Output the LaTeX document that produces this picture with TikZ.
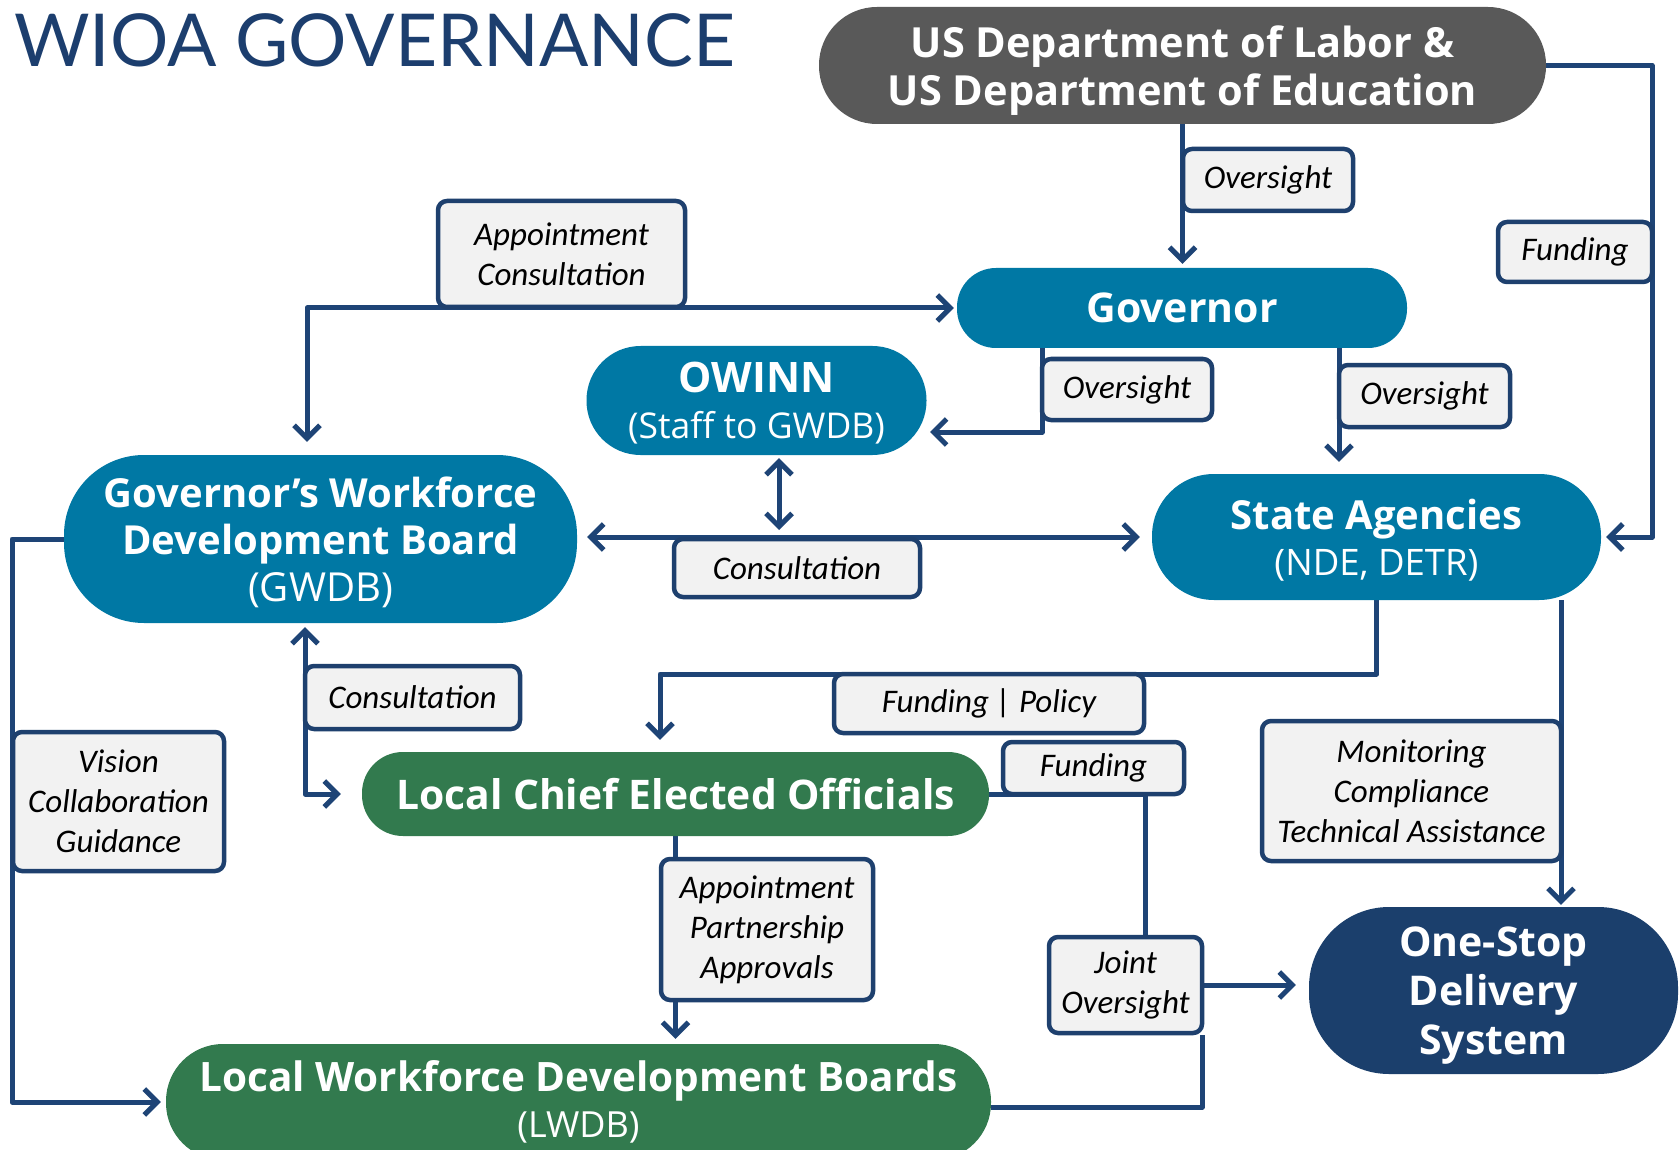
\documentclass[tikz,border=0pt]{standalone}
\usepackage{fontspec}
\setmainfont{Open Sans}
\newfontfamily\titlefont{Lato}
\newfontfamily\lblfont{Carlito}
\usetikzlibrary{arrows.meta,calc}
\definecolor{linec}{RGB}{30,68,118}
\definecolor{boxc}{RGB}{30,64,110}
\definecolor{lblfill}{RGB}{242,242,242}
\definecolor{tealc}{RGB}{0,120,164}
\definecolor{greenc}{RGB}{50,122,78}
\definecolor{navyc}{RGB}{27,63,108}
\definecolor{grayc}{RGB}{89,89,89}
\definecolor{titlec}{RGB}{28,62,110}
\pgfdeclarelayer{bg}
\pgfsetlayers{bg,main}
\tikzset{
  big/.style={fill=#1, text=white, inner sep=0pt, align=center, text depth=0pt},
  lbl/.style={draw=boxc, line width=4.5pt, fill=lblfill, rounded corners=9pt,
    inner sep=0pt, align=center, text=black,
    font={\lblfont\itshape\fontsize{33}{40}\selectfont}},
  conn/.style={draw=linec, line width=5pt, line join=round},
  arr/.style={conn, -{Straight Barb[length=13pt,width=26pt]}},
  darr/.style={conn, {Straight Barb[length=13pt,width=26pt]}-{Straight Barb[length=13pt,width=26pt]}},
}
\begin{document}
\begin{tikzpicture}[x=1pt,y=-1pt]
\useasboundingbox (0,0) rectangle (1679,1150);
\begin{pgfonlayer}{bg}
\fill[white] (0,0) rectangle (1679,1150);
\end{pgfonlayer}

% title
\node[anchor=base west, inner sep=0pt, text=titlec, font={\titlefont\fontsize{73}{80}\selectfont}] (title) at (14,67) {WIOA GOVERNANCE};

% main nodes
\node[big=grayc, minimum width=727pt, minimum height=117pt, rounded corners=58pt,
  font={\fontsize{41.5}{48}\selectfont\bfseries}] (us) at (1182.5,65.5)
  {US Department of Labor \&\\US Department of Education};
\node[big=tealc, minimum width=450pt, minimum height=80pt, rounded corners=39pt,
  font={\fontsize{41}{48}\selectfont\bfseries}] (gov) at (1182,308) {Governor};
\node[big=tealc, minimum width=340pt, minimum height=109pt, rounded corners=54pt,
  font={\fontsize{42}{46}\selectfont\bfseries}] (owinn) at (756.5,400.5)
  {OWINN\\{\fontsize{35.5}{46}\selectfont\mdseries (Staff to GWDB)}};
\node[big=tealc, minimum width=513pt, minimum height=168pt, rounded corners=80pt,
  font={\fontsize{40}{47}\selectfont\bfseries}] (gwdb) at (320.5,539)
  {Governor’s Workforce\\Development Board\\{\fontsize{40}{47}\selectfont\mdseries (GWDB)}};
\node[big=tealc, minimum width=449pt, minimum height=126pt, rounded corners=62pt,
  font={\fontsize{40}{46}\selectfont\bfseries}] (state) at (1376.5,537)
  {State Agencies\\{\fontsize{36.5}{46}\selectfont\mdseries (NDE, DETR)}};
\node[big=greenc, minimum width=627pt, minimum height=84pt, rounded corners=41pt,
  font={\fontsize{40.8}{48}\selectfont\bfseries}] (lceo) at (675.5,794)
  {Local Chief Elected Officials};
\node[big=greenc, text depth=, minimum width=825pt, minimum height=116pt, rounded corners=57pt,
  font={\fontsize{40.5}{46}\selectfont\bfseries}] (lwdb) at (578.5,1102)
  {Local Workforce Development Boards\\{\fontsize{36}{46}\selectfont\mdseries (LWDB)}};
\node[big=navyc, minimum width=369pt, minimum height=167pt, rounded corners=80pt,
  font={\fontsize{41}{49}\selectfont\bfseries}] (onestop) at (1493.5,990.5)
  {One-Stop\\Delivery\\System};

% label boxes
\node[lbl, minimum width=247pt, minimum height=106pt] (L1) at (561.5,254) {Appointment\\Consultation};
\node[lbl, minimum width=170pt, minimum height=62pt] (L2) at (1268,180) {Oversight};
\node[lbl, minimum width=154pt, minimum height=60pt] (L3) at (1575,252) {Funding};
\node[lbl, minimum width=170pt, minimum height=61pt] (L4) at (1127,389.5) {Oversight};
\node[lbl, minimum width=171pt, minimum height=62pt] (L5) at (1424.5,396) {Oversight};
\node[lbl, minimum width=246pt, minimum height=58pt] (L6) at (797,568) {Consultation};
\node[lbl, minimum width=215pt, minimum height=63pt] (L7) at (412.5,697.5) {Consultation};
\node[lbl, minimum width=211pt, minimum height=139pt] (L8) at (118.5,801.5) {Vision\\Collaboration\\Guidance};
\node[lbl, minimum width=310pt, minimum height=59pt] (L9) at (989,703.5) {Funding | Policy};
\node[lbl, minimum width=181pt, minimum height=52pt] (L10) at (1093.5,768) {Funding};
\node[lbl, minimum width=212pt, minimum height=141pt] (L11) at (767,929.5) {Appointment\\Partnership\\Approvals};
\node[lbl, minimum width=299pt, minimum height=140pt] (L12) at (1411.5,791) {Monitoring\\Compliance\\Technical Assistance};
\node[lbl, minimum width=153pt, minimum height=96pt] (L13) at (1125.5,985) {Joint\\Oversight};

% connectors
\begin{pgfonlayer}{bg}
\coordinate (fR) at (1652,537);
\coordinate (aC) at (307,308);
\coordinate (gO) at (1042,432);
\coordinate (owE) at (930,432);
\coordinate (gsx) at (1339,0);
\coordinate (oc) at (779,0);
\coordinate (gl) at (305,0);
\coordinate (vl) at (12,0);
\coordinate (fp) at (660,674);
\coordinate (sm) at (1561,0);
\coordinate (lj) at (1145,794);
\coordinate (wj) at (1202,1107);

\draw[arr, shorten >=4pt] (us.south) -- (us.south |- gov.north);
\draw[arr, shorten >=5pt] (us.east) -| (fR) -- (state.east);
\draw[darr, shorten <=13pt, shorten >=3pt] (aC |- gwdb.north) -- (aC) -- (gov.west);
\draw[arr] (gO |- gov.south) -- (gO) -- (owE);
\draw[arr, shorten >=12pt] (gsx |- gov.south) -- (gsx |- state.north);
\draw[darr, shorten <=3pt, shorten >=7pt] (oc |- owinn.south) -- (oc |- state.west);
\draw[darr, shorten <=10pt, shorten >=12pt] (gwdb.east |- state.west) -- (state.west);
\draw[darr, shorten <=4pt, shorten >=21pt] (gl |- gwdb.south) -- (gl |- lceo.west) -- (lceo.west);
\draw[arr, shorten >=5pt] (gwdb.west) -- (vl |- gwdb.west) -- (vl |- lwdb.west) -- (lwdb.west);
\draw[arr, shorten >=12pt] (state.south) |- (fp) -- (fp |- lceo.north);
\draw[arr, shorten >=2pt] (sm |- state.south) -- (sm |- onestop.north);
\draw[arr, shorten >=5pt] (lceo.south) -- (lceo.south |- lwdb.north);
\draw[conn] (lceo.east) -- (lj) -- (lj |- L13.north);
\draw[conn] (lwdb.east |- wj) -- (wj) -- (wj |- L13.south);
\draw[arr, shorten >=13pt] (L13.east) -- (L13.east -| onestop.west);
\end{pgfonlayer}
\end{tikzpicture}
\end{document}
